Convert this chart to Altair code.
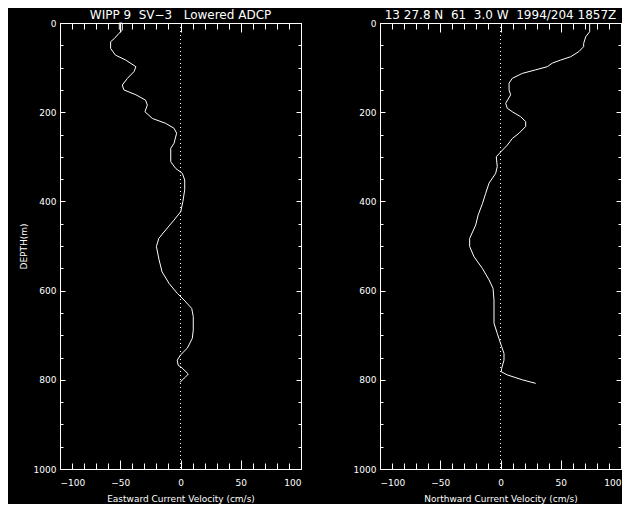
import altair as alt
import pandas as pd

# ---- data ----
east_depth = [15, 0, 0, 16, 23, 35, 42, 57, 72, 83, 98, 109, 124, 139, 150, 161, 173, 184, 199,
              214, 225, 236, 247, 270, 281, 311, 326, 337, 352, 374, 400, 423, 442, 464, 483,
              501, 531, 558, 584, 606, 621, 640, 658, 688, 707, 729, 744, 756, 767, 774, 787,
              795, 800, 806]
east_u = [-50.8, -50.8, -48.3, -48.3, -51, -55, -58, -58, -54, -45.5, -37, -38.6, -44, -48.3,
          -47, -37, -29, -27.5, -29.5, -23.4, -12.3, -5.4, -3.2, -5.4, -8.1, -8.1, -4, 1.5,
          3.5, 3.5, 2, 0.2, -5.4, -12.3, -18, -20, -17.8, -15.3, -9.5, -2.7, 2.9, 9.3, 10.6,
          10.6, 9.8, 5.7, 0.1, -2.7, -2, 1.5, 6.5, 3.7, 1.5, -0.4]

north_depth = [0, 19.5, 31, 46, 53, 64, 75.5, 83, 90, 98, 105, 113, 124, 135, 150, 161, 180,
               191, 199, 210, 221, 232, 247, 259, 274, 289, 300, 322, 337, 359, 382, 405, 430,
               453, 483, 501, 524, 550, 576, 595, 621, 673, 696, 726, 741, 756, 774, 782, 789,
               800, 808]
north_v = [74, 74, 70.7, 69, 69, 65.1, 58.3, 50, 43, 38.8, 29.2, 18.1, 9.8, 7.1, 7.1, 8.4, 4.3,
           5.6, 9.8, 16.7, 20.9, 20.9, 15.4, 9.8, 5.6, 0.2, -3.5, -2.7, -4, -9.5, -12.3, -15,
           -18.5, -20.6, -25.6, -25.6, -22, -15.1, -9.5, -6.2, -5.4, -5.4, -2.7, 1, 2.9, 2.9,
           1, 0.7, 5.6, 18.1, 29.2]

x_major = [-100, -50, 0, 50, 100]
x_minor = list(range(-100, 101, 10))
y_major = [0, 200, 400, 600, 800, 1000]
y_minor = list(range(0, 1001, 50))

left_title = "WIPP 9\u00a0\u00a0SV\u22123\u00a0\u00a0\u00a0Lowered ADCP"
right_title = "13 27.8 N\u00a0\u00a061\u00a0\u00a03.0 W\u00a0\u00a01994/204 1857Z"
left_xtitle = "Eastward Current Velocity (cm/s)"
right_xtitle = "Northward Current Velocity (cm/s)"
ytitle = "DEPTH(m)"

FONT = "DejaVu Sans"
W, H = 241, 446


def panel(depth, vel, title, xtitle, show_ytitle):
    df = pd.DataFrame({"i": list(range(len(depth))), "depth": depth, "vel": vel})
    xs = alt.Scale(domain=[-100, 100], nice=False, zero=False)
    ys = alt.Scale(domain=[0, 1000], reverse=True, nice=False, zero=False)
    base = alt.Chart(df)

    yenc_kwargs = dict(scale=ys, axis=alt.Axis(orient="left", values=y_major, format="d",
                                                ticks=False, domain=False, grid=False,
                                                labelPadding=4, titlePadding=5,
                                                titleFontSize=9, titleFontWeight="normal"))
    if show_ytitle:
        yenc = alt.Y("depth:Q", title=ytitle, **yenc_kwargs)
    else:
        yenc = alt.Y("depth:Q", title=None, **yenc_kwargs)

    line = base.mark_line(color="white", strokeWidth=1).encode(
        x=alt.X("vel:Q", scale=xs, title=xtitle,
                axis=alt.Axis(orient="bottom", values=x_major, format="d", ticks=False,
                              domain=False, grid=False, labelPadding=9, titlePadding=7,
                              titleFontSize=9, titleFontWeight="normal")),
        y=yenc,
        order=alt.Order("i:Q"),
    )

    zero = alt.Chart(pd.DataFrame({"z": [0]})).mark_rule(
        color="white", strokeDash=[1, 3], strokeWidth=1
    ).encode(x=alt.X("z:Q", scale=xs, axis=None))

    def ticks(xorient, yorient, xvals, yvals, xlen, ylen):
        return base.mark_line(opacity=0).encode(
            x=alt.X("vel:Q", scale=xs, title=None,
                    axis=alt.Axis(orient=xorient, values=xvals, tickSize=xlen, offset=-xlen,
                                  labels=False, domain=False, grid=False,
                                  tickColor="white", tickWidth=1)),
            y=alt.Y("depth:Q", scale=ys, title=None,
                    axis=alt.Axis(orient=yorient, values=yvals, tickSize=ylen, offset=-ylen,
                                  labels=False, domain=False, grid=False,
                                  tickColor="white", tickWidth=1)),
            order=alt.Order("i:Q"),
        )

    layers = [
        line,
        zero,
        ticks("bottom", "left", x_minor, y_minor, 6, 3),
        ticks("bottom", "left", x_major, y_major, 9, 5),
        ticks("top", "right", x_minor, y_minor, 6, 3),
        ticks("top", "right", x_major, y_major, 9, 5),
    ]
    return alt.layer(*layers).resolve_axis(x="independent", y="independent").properties(
        width=W, height=H,
        title=alt.TitleParams(title, fontSize=12, font=FONT, color="white",
                              fontWeight="normal", offset=-3, anchor="middle"),
    )


left = panel(east_depth, east_u, left_title, left_xtitle, True)
right = panel(north_depth, north_v, right_title, right_xtitle, False)

chart = alt.hconcat(left, right, spacing=79, bounds="flush").configure(
    background="black", padding={"left": 10, "top": 0, "right": 0, "bottom": 0}
).configure_view(
    stroke="white", strokeWidth=1
).configure_axis(
    labelColor="white", titleColor="white", labelFont=FONT, titleFont=FONT,
    labelFontSize=9, tickColor="white"
)

chart.save("out.html", embed_options={"renderer": "svg", "actions": False})
